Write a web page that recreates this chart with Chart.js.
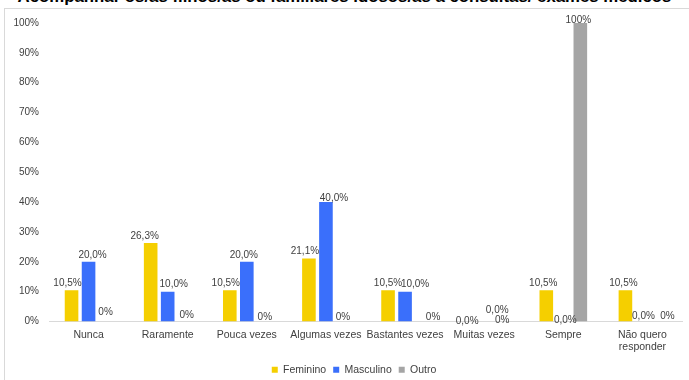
<!DOCTYPE html>
<html>
<head>
<meta charset="utf-8">
<script src="https://cdn.jsdelivr.net/npm/chart.js@4/dist/chart.umd.min.js"></script>
<style>
  html, body { margin: 0; padding: 0; background: #fff; overflow: hidden; }
  #wrap { position: relative; width: 689px; height: 380px; overflow: hidden; }
  #frame { position: absolute; left: 4px; top: 8px; width: 700px; height: 400px;
           border-left: 1px solid #d9d9d9; border-top: 1px solid #d9d9d9; }
  #title { position: absolute; left: 0; width: 689px; top: -13px; text-align: center;
           font: bold 16.8px "Liberation Sans", Arial, sans-serif; color: #000; white-space: nowrap; }
  #chartBox { position: absolute; left: 0; top: 0; width: 689px; height: 385px; }
</style>
</head>
<body>
<div id="wrap">
  <div id="frame"></div>
  <div id="title">Acompanhar os/as filhos/as ou familiares idosos/as a consultas/ exames médicos</div>
  <div id="chartBox"><canvas id="c"></canvas></div>
</div>
<script>
const categories = ['Nunca', 'Raramente', 'Pouca vezes', 'Algumas vezes', 'Bastantes vezes', 'Muitas vezes', 'Sempre', ['Não quero', 'responder']];
const feminino = [10.5, 26.3, 10.5, 21.1, 10.5, 0, 10.5, 10.5];
const masculino = [20, 10, 20, 40, 10, 0, 0, 0];
const outro = [0, 0, 0, 0, 0, 0, 100, 0];
const yTicks = [0, 10, 20, 30, 40, 50, 60, 70, 80, 90, 100];

const FONT = '"Liberation Sans", Arial, sans-serif';

// label nudges (px), same order as the categories
const labelNudge = [
  { dx: [-4, -6, -4, -4, 0, 0, -3, -2], dy: [0, 0, 0, 0, 0, 7, 0, 0] },
  { dx: [4, 6, -3, 8, 10, 13, 2, 1], dy: [0, 0, 0, 3, 0, -4, 6, 2] },
  { dx: [0, 2, 1, 0, 11, 1, -2, 8], dy: [-2, 1, 3, 3, 3, 6, 4, 2] }
];

function fmt(v, di) {
  if (di === 2) return Math.round(v) + '%';
  return v.toFixed(1).replace('.', ',') + '%';
}

const valueLabels = {
  id: 'valueLabels',
  afterLayout(chart) {
    // legend sits a bit right of centre in the original
    if (chart.legend) chart.legend.left += 26;
  },
  afterDatasetsDraw(chart) {
    const ctx = chart.ctx;
    ctx.save();
    ctx.font = '10px ' + FONT;
    ctx.fillStyle = '#404040';
    ctx.textAlign = 'center';
    ctx.textBaseline = 'middle';
    chart.data.datasets.forEach((ds, di) => {
      chart.getDatasetMeta(di).data.forEach((bar, i) => {
        const n = labelNudge[di];
        ctx.fillText(fmt(ds.data[i], di), bar.x + n.dx[i], bar.y - 7 + n.dy[i]);
      });
    });
    ctx.restore();
  }
};

new Chart(document.getElementById('c'), {
  type: 'bar',
  data: {
    labels: categories,
    datasets: [
      { label: 'Feminino', data: feminino, backgroundColor: '#f5cf00' },
      { label: 'Masculino', data: masculino, backgroundColor: '#3a6ffb' },
      { label: 'Outro', data: outro, backgroundColor: '#a5a5a5' }
    ]
  },
  options: {
    responsive: true,
    maintainAspectRatio: false,
    animation: false,
    datasets: { bar: { categoryPercentage: 0.645, barPercentage: 0.8 } },
    layout: { padding: { top: 23, right: 7, left: 0, bottom: 0 } },
    scales: {
      x: {
        grid: { display: false, drawTicks: false },
        border: { color: '#d9d9d9', width: 1 },
        ticks: { color: '#404040', font: { family: FONT, size: 10.5 }, padding: 7, maxRotation: 0, autoSkip: false },
        afterFit: s => { s.height = 36; }
      },
      y: {
        min: 0, max: 100,
        afterBuildTicks: s => { s.ticks = yTicks.map(v => ({ value: v })); },
        grid: { display: false, drawTicks: false },
        border: { display: false },
        ticks: { color: '#404040', font: { family: FONT, size: 10 }, padding: 10, callback: v => v + '%' },
        afterFit: s => { s.width = 49; }
      }
    },
    plugins: {
      legend: {
        position: 'bottom',
        labels: {
          boxWidth: 6, boxHeight: 6, padding: 7,
          color: '#404040', font: { family: FONT, size: 10.5 }
        }
      },
      tooltip: { enabled: false }
    }
  },
  plugins: [valueLabels]
});
</script>
</body>
</html>
